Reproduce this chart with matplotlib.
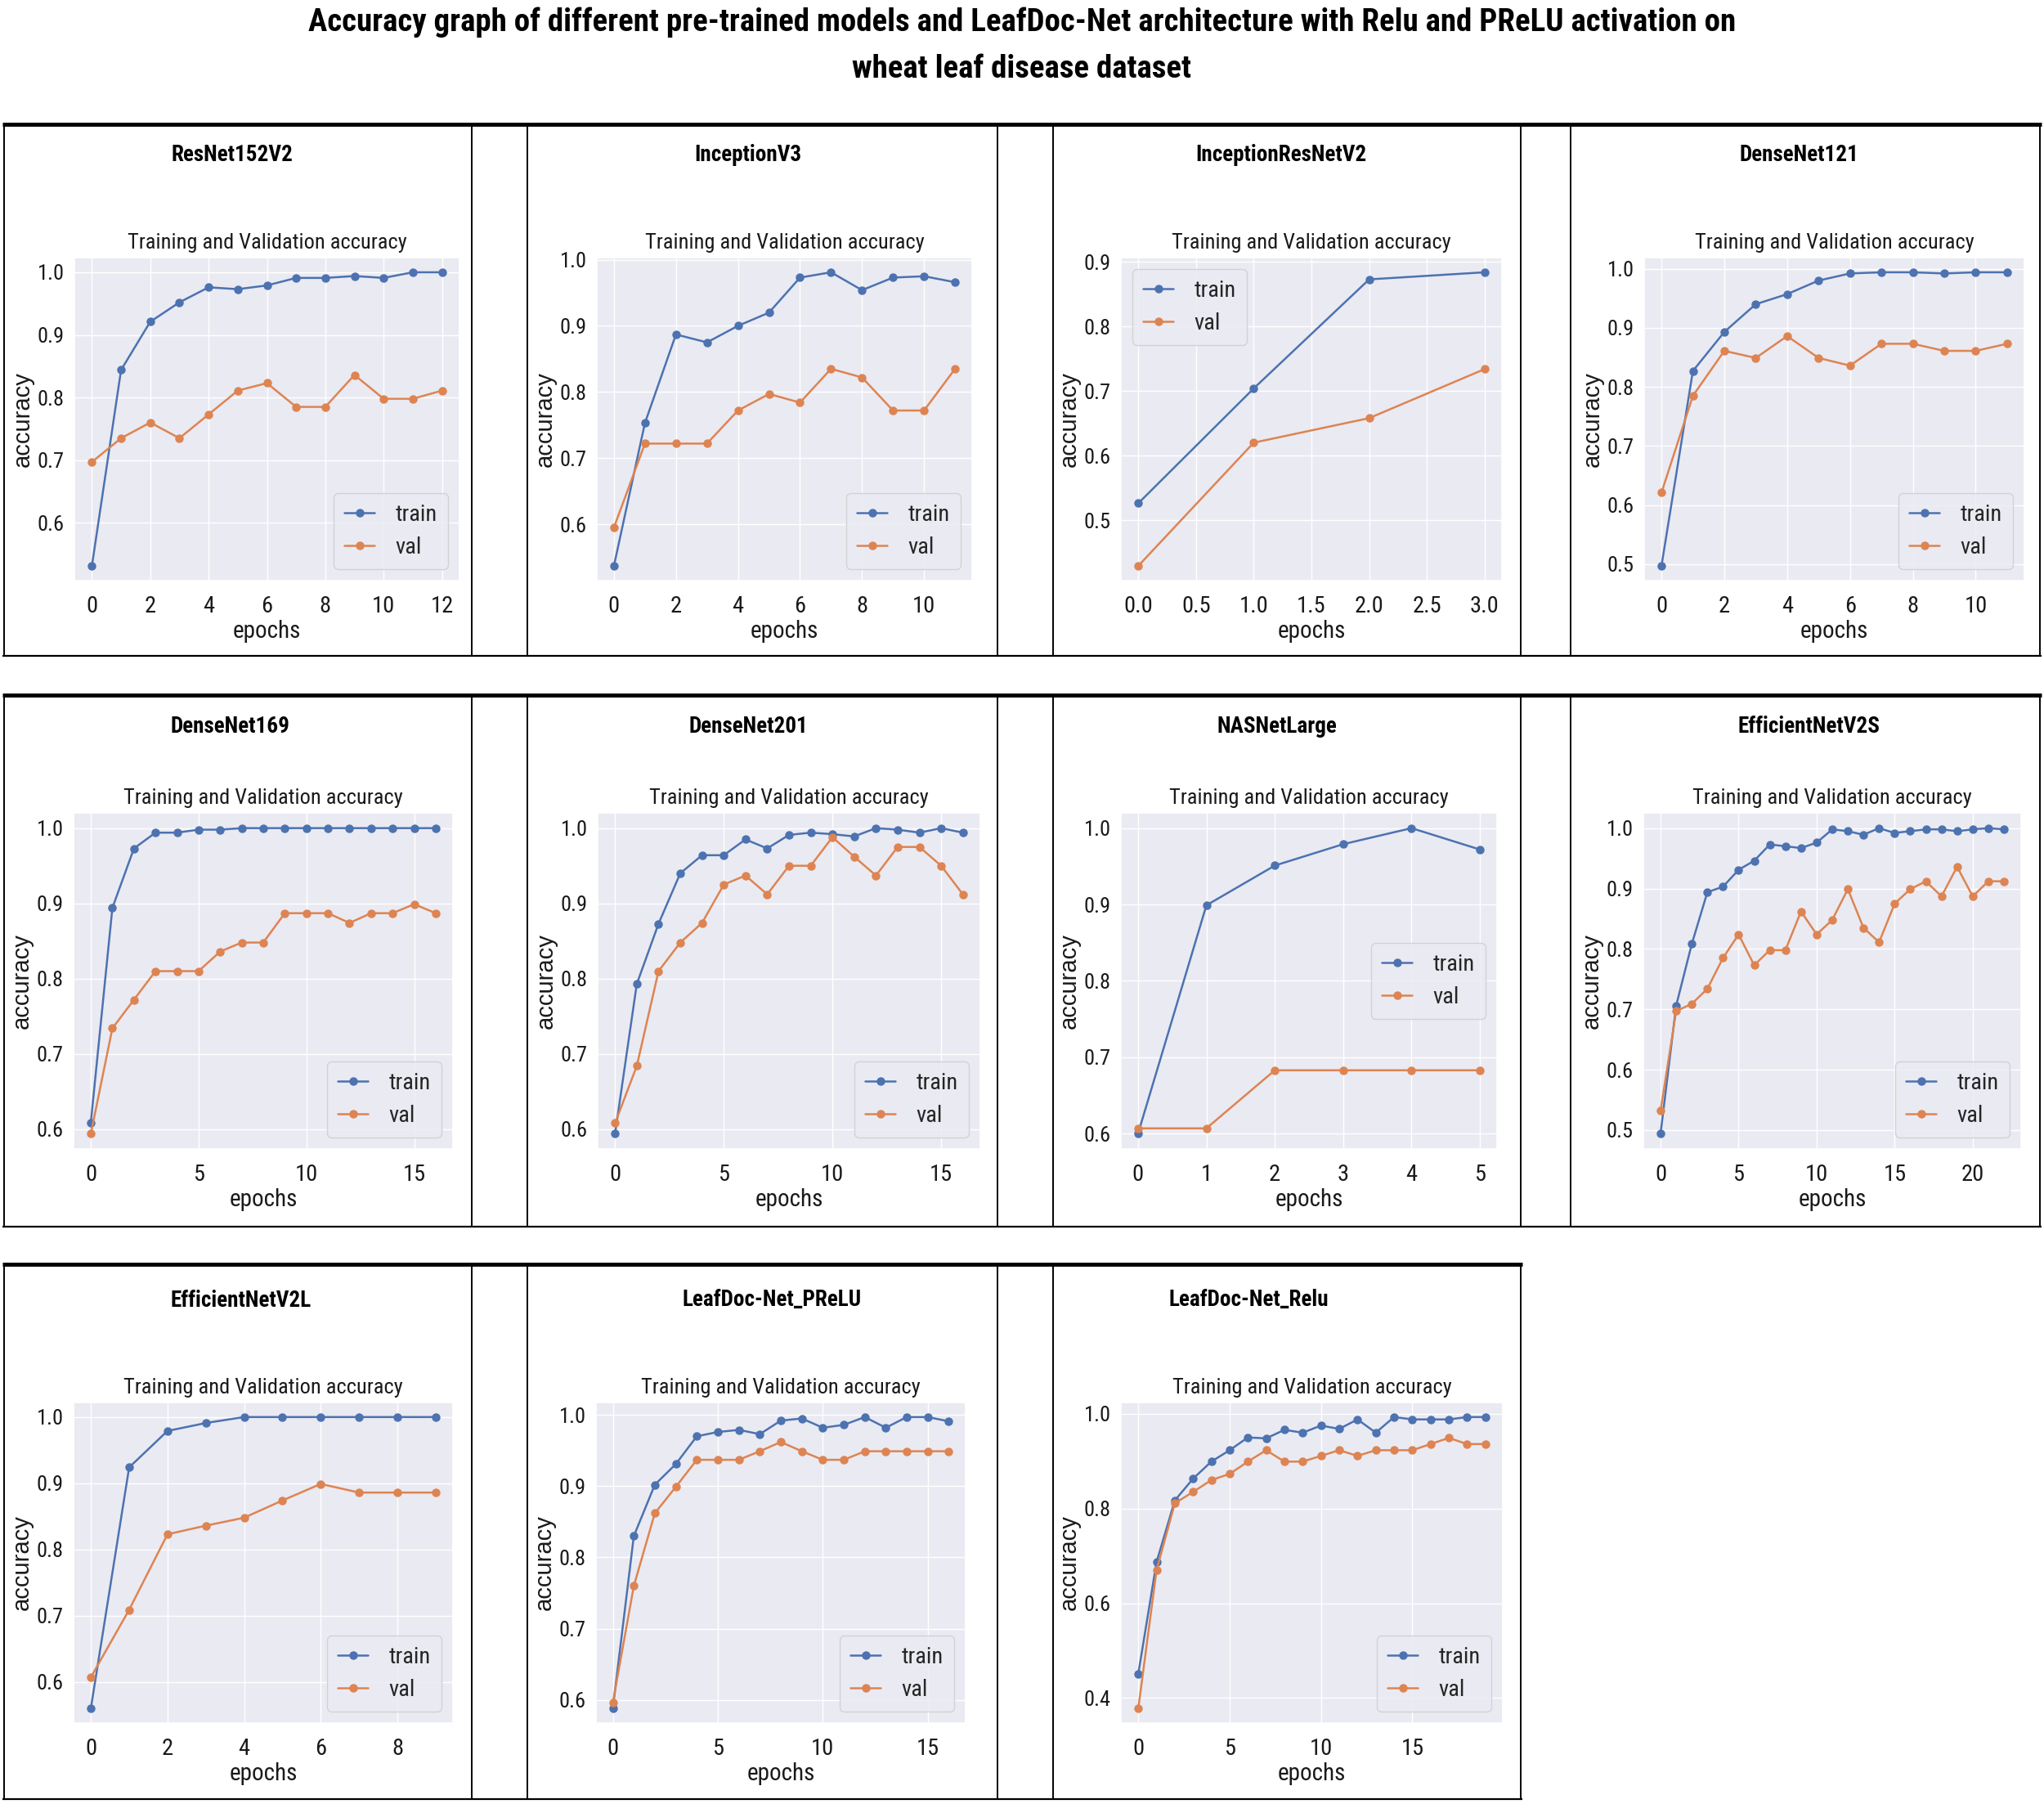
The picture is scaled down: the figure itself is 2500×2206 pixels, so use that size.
import numpy as np
import matplotlib
matplotlib.use("Agg")
import matplotlib.pyplot as plt
import seaborn as sns
from matplotlib import font_manager as fm
from matplotlib.lines import Line2D
from matplotlib.ticker import MultipleLocator

# ---------------- data ----------------
suptitle = ("Accuracy graph of different pre-trained models and LeafDoc-Net architecture with Relu and PReLU activation on\n"
            "wheat leaf disease dataset")

model_names = ["ResNet152V2", "InceptionV3", "InceptionResNetV2", "DenseNet121",
               "DenseNet169", "DenseNet201", "NASNetLarge", "EfficientNetV2S",
               "EfficientNetV2L", "LeafDoc-Net_PReLU", "LeafDoc-Net_Relu"]

resnet152v2_train = [0.531, 0.844, 0.921, 0.952, 0.976, 0.973, 0.979, 0.991, 0.991, 0.994, 0.991, 1.0, 1.0]
resnet152v2_val = [0.697, 0.735, 0.760, 0.735, 0.773, 0.811, 0.823, 0.785, 0.785, 0.836, 0.798, 0.798, 0.811]

inceptionv3_train = [0.537, 0.753, 0.887, 0.875, 0.900, 0.920, 0.973, 0.981, 0.954, 0.973, 0.975, 0.966]
inceptionv3_val = [0.595, 0.722, 0.722, 0.722, 0.772, 0.797, 0.784, 0.835, 0.822, 0.772, 0.772, 0.835]

inceptionresnetv2_train = [0.526, 0.704, 0.873, 0.884]
inceptionresnetv2_val = [0.429, 0.620, 0.658, 0.734]

densenet121_train = [0.497, 0.827, 0.893, 0.940, 0.957, 0.980, 0.992, 0.994, 0.994, 0.992, 0.994, 0.994]
densenet121_val = [0.621, 0.785, 0.861, 0.849, 0.886, 0.849, 0.836, 0.873, 0.873, 0.861, 0.861, 0.873]

densenet169_train = [0.609, 0.894, 0.973, 0.994, 0.994, 0.998, 0.998, 1.0, 1.0, 1.0, 1.0, 1.0, 1.0, 1.0, 1.0, 1.0, 1.0]
densenet169_val = [0.594, 0.734, 0.772, 0.810, 0.810, 0.810, 0.836, 0.848, 0.848, 0.887, 0.887, 0.887, 0.874, 0.887, 0.887, 0.899, 0.887]

densenet201_train = [0.594, 0.793, 0.873, 0.940, 0.964, 0.964, 0.985, 0.973, 0.991, 0.994, 0.992, 0.989, 1.0, 0.998, 0.994, 1.0, 0.994]
densenet201_val = [0.608, 0.684, 0.810, 0.848, 0.874, 0.925, 0.937, 0.912, 0.950, 0.950, 0.988, 0.962, 0.937, 0.975, 0.975, 0.950, 0.912]

nasnetlarge_train = [0.600, 0.899, 0.951, 0.979, 1.0, 0.972]
nasnetlarge_val = [0.607, 0.607, 0.683, 0.683, 0.683, 0.683]

efficientnetv2s_train = [0.494, 0.706, 0.808, 0.894, 0.903, 0.931, 0.946, 0.973, 0.970, 0.967, 0.976, 0.998,
                         0.995, 0.989, 1.0, 0.992, 0.995, 0.998, 0.998, 0.995, 0.998, 1.0, 0.998]
efficientnetv2s_val = [0.532, 0.697, 0.709, 0.734, 0.785, 0.824, 0.773, 0.798, 0.798, 0.862, 0.824, 0.848,
                       0.899, 0.835, 0.811, 0.875, 0.899, 0.912, 0.887, 0.936, 0.887, 0.912, 0.912]

efficientnetv2l_train = [0.560, 0.924, 0.979, 0.991, 1.0, 1.0, 1.0, 1.0, 1.0, 1.0]
efficientnetv2l_val = [0.607, 0.709, 0.823, 0.836, 0.848, 0.874, 0.899, 0.886, 0.886, 0.886]

leafdoc_prelu_train = [0.588, 0.830, 0.902, 0.931, 0.970, 0.976, 0.979, 0.973, 0.992, 0.995, 0.982, 0.986,
                       0.997, 0.982, 0.997, 0.997, 0.991]
leafdoc_prelu_val = [0.596, 0.760, 0.862, 0.899, 0.937, 0.937, 0.937, 0.949, 0.962, 0.949, 0.937, 0.937,
                     0.949, 0.949, 0.949, 0.949, 0.949]

leafdoc_relu_train = [0.451, 0.687, 0.817, 0.863, 0.899, 0.923, 0.950, 0.948, 0.966, 0.960, 0.975, 0.968,
                      0.988, 0.960, 0.993, 0.988, 0.988, 0.988, 0.993, 0.993]
leafdoc_relu_val = [0.378, 0.670, 0.811, 0.835, 0.860, 0.873, 0.899, 0.923, 0.899, 0.899, 0.911, 0.923,
                    0.911, 0.923, 0.923, 0.923, 0.936, 0.949, 0.936, 0.936]

train_series = [resnet152v2_train, inceptionv3_train, inceptionresnetv2_train, densenet121_train,
                densenet169_train, densenet201_train, nasnetlarge_train, efficientnetv2s_train,
                efficientnetv2l_train, leafdoc_prelu_train, leafdoc_relu_train]
val_series = [resnet152v2_val, inceptionv3_val, inceptionresnetv2_val, densenet121_val,
              densenet169_val, densenet201_val, nasnetlarge_val, efficientnetv2s_val,
              efficientnetv2l_val, leafdoc_prelu_val, leafdoc_relu_val]

# ---------------- style ----------------
sns.set_theme(style="darkgrid")

names = {f.name for f in fm.fontManager.ttflist}
cond_family, cond_stretch = None, "normal"
for cand in ["Liberation Sans Narrow", "Arial Narrow", "Roboto Condensed", "Open Sans Condensed",
             "Noto Sans Condensed", "DejaVu Sans Condensed"]:
    if cand in names:
        cond_family = cand
        break
if cond_family is None:
    for f in fm.fontManager.ttflist:
        if f.stretch in ("condensed", "semi-condensed", "extra-condensed", "ultra-condensed") and \
                f.name in ("DejaVu Sans", "Noto Sans", "Open Sans", "Roboto", "Liberation Sans"):
            cond_family, cond_stretch = f.name, f.stretch
            break
if cond_family is None:
    cond_family = "Liberation Sans"

plt.rcParams["font.family"] = [cond_family, "DejaVu Sans"]
plt.rcParams["font.stretch"] = cond_stretch
regular_family = ["Liberation Sans", "DejaVu Sans"]

W, H = 2500, 2206
fig = plt.figure(figsize=(W / 100, H / 100), dpi=100)
fig.patch.set_facecolor("white")


def frect(l, t, r, b):
    return [l / W, 1 - b / H, (r - l) / W, (b - t) / H]


def hline(x1, x2, y, lw):
    fig.add_artist(Line2D([x1 / W, x2 / W], [1 - y / H, 1 - y / H], transform=fig.transFigure,
                          color="black", lw=lw, solid_capstyle="butt"))


def vline(x, y1, y2, lw):
    fig.add_artist(Line2D([x / W, x / W], [1 - y1 / H, 1 - y2 / H], transform=fig.transFigure,
                          color="black", lw=lw, solid_capstyle="butt"))


# layout (pixels)
axes_rects = [
    (91, 315, 562, 710), (730, 315, 1189, 710), (1371, 315, 1837, 710), (2011, 315, 2476, 710),
    (90, 994, 554, 1405), (731, 994, 1199, 1405), (1371, 994, 1831, 1405), (2010, 994, 2472, 1405),
    (90, 1715, 554, 2107), (729, 1715, 1181, 2107), (1371, 1715, 1838, 2107),
]
title_pos = [(284, 190), (915, 190), (1567, 190), (2200, 190),
             (282, 889), (915, 889), (1562, 889), (2212, 889),
             (295, 1590), (944, 1590), (1527, 1590)]
x_steps = [2, 2, 0.5, 2, 5, 5, 1, 5, 2, 5, 5]
y_steps = [0.1, 0.1, 0.1, 0.1, 0.1, 0.1, 0.1, 0.1, 0.1, 0.1, 0.2]
legend_locs = ["lower right", "lower right", "upper left", "lower right",
               "lower right", "lower right", "center right", "lower right",
               "lower right", "lower right", "lower right"]

blue, orange = "#4C72B0", "#DD8452"

for i, name in enumerate(model_names):
    l, t, r, b = axes_rects[i]
    ax = fig.add_axes(frect(l, t, r, b))
    tr = train_series[i]
    va = val_series[i]
    ep = np.arange(len(tr))
    ax.plot(ep, tr, "-o", color=blue, lw=1.8, ms=6.5, label="train")
    ax.plot(ep, va, "-o", color=orange, lw=1.8, ms=6.5, label="val")
    ax.xaxis.set_major_locator(MultipleLocator(x_steps[i]))
    ax.yaxis.set_major_locator(MultipleLocator(y_steps[i]))
    ax.tick_params(axis="x", labelsize=20.5, colors="0.1", pad=7)
    ax.tick_params(axis="y", labelsize=19, colors="0.1", pad=3)
    ax.set_title("Training and Validation accuracy", fontsize=19, color="0.1", pad=8)
    ax.set_xlabel("epochs", fontsize=21, color="0.1", labelpad=2)
    ax.set_ylabel("accuracy", fontsize=21, color="0.1", family=regular_family)
    ax.yaxis.label.set_va("center")
    ax.yaxis.set_label_coords(-63 / (r - l), 0.5)
    ax.legend(loc=legend_locs[i], fontsize=20.5, borderpad=0.45, handlelength=1.3,
              handletextpad=0.9, labelspacing=0.45)
    tx, ty = title_pos[i]
    fig.text(tx / W, 1 - ty / H, name, ha="center", va="center", fontsize=19.5, fontweight="bold",
             color="black")

fig.text(0.5, 1 - 56 / H, suptitle, ha="center", va="center", fontsize=28, fontweight="bold",
         color="black", linespacing=1.7)

# table-like panel borders
col_edges = [(5, 577), (645, 1220), (1288, 1860), (1921, 2495)]
rows = [(152, 802, 4), (850, 1500, 4), (1546, 2200, 3)]
for rr, (yt, yb, n) in enumerate(rows):
    xr = col_edges[n - 1][1]
    hline(3, xr + 2, yt, 3.5)
    hline(3, xr + 2, yb, 1.6)
    for c in range(n):
        vline(col_edges[c][0], yt, yb, 1.4)
        vline(col_edges[c][1], yt, yb, 1.4)

fig.savefig("out.png", dpi=100, facecolor="white")
